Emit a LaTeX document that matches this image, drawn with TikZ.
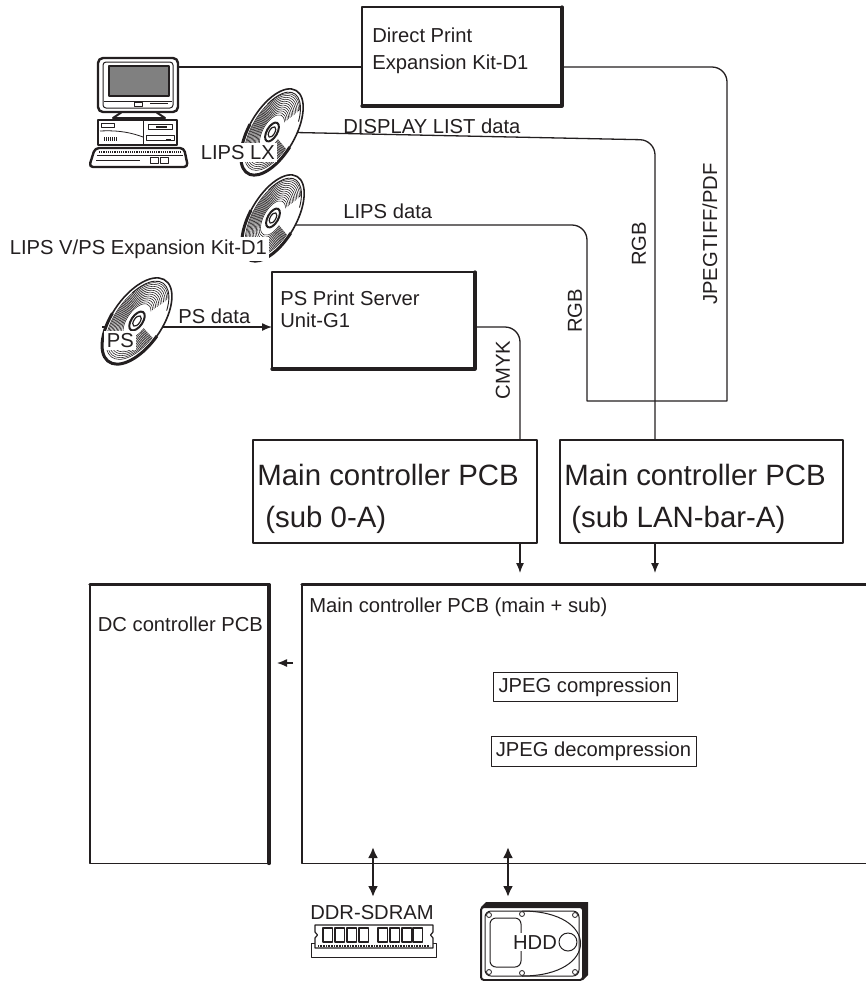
\documentclass[tikz,border=0pt]{standalone}
\usepackage{fontspec}
\setmainfont{Liberation Sans}
\usetikzlibrary{arrows.meta}
\definecolor{ink}{RGB}{35,31,32}
\definecolor{screengray}{RGB}{128,128,128}

\tikzset{
  cdisc/.pic={
    \begin{scope}[x=0.5pt,y=0.5pt,rotate=60]
      \filldraw[fill=white,line width=0.8pt] (0,0) ellipse[x radius=48,y radius=23];
      \draw[line width=1.5pt] (95:48 and 23) arc[start angle=95,end angle=265,x radius=48,y radius=23];
      \draw[line width=0.45pt] (-60:44.5 and 20.5) arc[start angle=-60,end angle=60,x radius=44.5,y radius=20.5];
      \foreach \k in {0.40,0.445,0.49,0.535,0.58,0.625,0.67,0.715,0.76,0.805,0.85,0.89}
        \draw[line width=0.28pt] (-40:{48*\k} and {23*\k}) arc[start angle=-40,end angle=260,x radius={48*\k},y radius={23*\k}];
      \draw[line width=1pt] (0,0) ellipse[x radius=10.5,y radius=5.2];
      \draw[line width=0.6pt] (0,0) ellipse[x radius=5.8,y radius=2.8];
    \end{scope}
  }
}

\begin{document}
\begin{tikzpicture}[x=0.5pt,y=-0.5pt,color=ink,line join=round,
  wire/.style={line width=0.65pt},
  tip/.style={line width=0.65pt,-{Latex[length=5pt,width=4pt]}},
  both/.style={line width=1.3pt,{Latex[length=5.5pt,width=5pt]}-{Latex[length=5.5pt,width=5pt]}},
  board/.style={draw,line width=0.65pt,inner sep=0pt,outer sep=0pt},
  unit/.style={draw,line width=1pt,inner sep=0pt,outer sep=0pt},
  func/.style={draw,line width=0.5pt,inner sep=0pt,outer sep=0pt},
  lbl/.style={font=\fontsize{10.1}{12}\selectfont,inner sep=0pt},
  biglbl/.style={font=\fontsize{14.7}{17}\selectfont,inner sep=0pt},
  mask/.style={lbl,fill=white,inner sep=1.2pt},
  vlbl/.style={lbl,rotate=90},
  shade/.style={line width=1.6pt,line cap=round}
]
\useasboundingbox (0,0) rectangle (866,981);

% ---------- boxes ----------
\node[unit,minimum width=100pt,minimum height=49.5pt] (dp) at (462,56.5) {};
\draw[shade] (dp.north east) -- (dp.south east) -- (dp.south west);
\node[lbl,anchor=base west] (dpt1) at (372,42) {Direct Print};
\node[lbl,anchor=base west] (dpt2) at (372,69) {Expansion Kit-D1};

\node[unit,minimum width=101.5pt,minimum height=48.5pt] (pss) at (373.5,320.5) {};
\draw[shade] (pss.north east) -- (pss.south east) -- (pss.south west);
\node[lbl,anchor=base west] (psst1) at (280,305) {PS Print Server};
\node[lbl,anchor=base west] (psst2) at (280,327) {Unit-G1};

\node[board,minimum width=142pt,minimum height=51.5pt] (mc0) at (395,491.5) {};
\node[biglbl,anchor=base west] (mc0t1) at (257,485) {Main controller PCB};
\node[biglbl,anchor=base west] (mc0t2) at (265,527) {(sub 0-A)};

\node[board,minimum width=141.5pt,minimum height=51.5pt] (mcl) at (701.5,491.5) {};
\node[biglbl,anchor=base west] (mclt1) at (564,485) {Main controller PCB};
\node[biglbl,anchor=base west] (mclt2) at (571,527) {(sub LAN-bar-A)};

\node[board,minimum width=289pt,minimum height=139.5pt] (mcm) at (591,724) {};
\draw[shade] (mcm.north west) -- (mcm.north east);
\node[lbl,anchor=base west] (mcmt) at (309,612) {Main controller PCB (main + sub)};

\node[board,minimum width=89.5pt,minimum height=139.5pt] (dc) at (179.5,724) {};
\draw[shade] (dc.north west) -- (dc.north east) -- (dc.south east);
\node[lbl,anchor=base west] (dct) at (97.5,631) {DC controller PCB};

\node[func,minimum width=92pt,minimum height=14.5pt,lbl] (jc) at (585,687) {JPEG compression};
\node[func,minimum width=102.5pt,minimum height=15pt,lbl] (jd) at (593.5,751.5) {JPEG decompression};

% ---------- computer ----------
\begin{scope}
  \draw[line width=1.2pt,fill=white,rounded corners=2.5pt] (98,58) rectangle (178,112);
  \draw[line width=0.5pt,rounded corners=1.5pt] (103,62) rectangle (173,108);
  \draw[line width=1.2pt,fill=screengray] (109,66) rectangle (169,96);
  \draw[line width=0.4pt] (104,101) -- (172,101);
  \draw[line width=0.4pt] (134,102) rectangle (142,106);
  \draw[line width=0.4pt] (150,103) -- (168,103);
  \draw[line width=1pt,fill=white] (122,112) -- (156,112) -- (165,118) -- (113,118) -- cycle;
  \draw[line width=1.2pt,fill=white] (98,120) rectangle (177,145);
  \draw[line width=0.5pt] (143,121) -- (143,144);
  \draw[line width=0.5pt] (101,123) rectangle (114,127);
  \draw[line width=0.4pt] (100,131) .. controls (120,130) and (132,133) .. (143,137);
  \draw[line width=0.5pt] (148,124) rectangle (172,129);
  \draw[line width=1pt] (156,126.5) -- (167,126.5);
  \draw[line width=0.5pt] (146,135) rectangle (174,140);
  \draw[line width=1pt] (166,140) -- (171,140);
  \foreach \i in {0,...,6} \draw[line width=0.3pt] (104+2*\i,137) -- (104+2*\i,141);
  \draw[line width=1.2pt,fill=white,rounded corners=2pt] (95,148) -- (184,148) -- (188,167) -- (89,167) -- cycle;
  \draw[line width=1.1pt,dash pattern=on 0.6pt off 0.5pt] (99,152) -- (181,152);
  \draw[line width=0.4pt] (97,155) -- (183,155);
  \draw[line width=0.4pt] (96,160) -- (140,160);
  \draw[line width=0.4pt] (150,157) rectangle (158,163);
  \draw[line width=0.4pt] (160,157) rectangle (168,163);
\end{scope}
\coordinate (pcport) at (178,67);
\draw[wire] (pcport) -- (pcport -| dp.west);

% ---------- discs and their data paths ----------
\coordinate (cd1) at (272,132);
\coordinate (cd2) at (273,218);
\coordinate (cdps) at (137,321);
\coordinate (psline) at (102,327);
\coordinate (jt) at (727,401);
\coordinate (rgbl) at (587,401);

\draw[wire,rounded corners=7.5pt] (cd1) -- (655,140) -- (655,140 |- mcl.north);
\draw[wire] (dp.east |- pcport) [rounded corners=7.5pt] -- (jt |- pcport) -- (727,300) [sharp corners] -- (jt) -- (rgbl) -- (587,300) [rounded corners=7.5pt] -- (587,225) -- (cd2 |- 0,225);
\draw[tip] (psline) -- (psline -| pss.west);

\pic at (cd1) {cdisc};
\pic at (cd2) {cdisc};
\pic[xscale=1.12] at (cdps) {cdisc};

\node[mask,anchor=base west] (lxl) at (198,159) {LIPS LX};
\node[mask,anchor=base west] (kitl) at (7,254) {LIPS V/PS Expansion Kit-D1};
\node[mask,anchor=base west] (psl) at (104,347) {PS};

\node[lbl,anchor=base west] (dll) at (343,133) {DISPLAY LIST data};
\node[lbl,anchor=base west] (lipsl) at (343,218) {LIPS data};
\node[lbl,anchor=base west] (psdl) at (178,323) {PS data};

% ---------- output paths ----------
\draw[wire,rounded corners=7.5pt] (psline -| pss.east) -- (520,327) -- (520,327 |- mc0.north);
\node[vlbl] (cmykl) at (503,370) {CMYK};
\node[vlbl] (rgb1) at (575,311) {RGB};
\node[vlbl] (rgb2) at (639,244) {RGB};
\node[vlbl] (jtl) at (710,234) {JPEGTIFF/PDF};

\coordinate (in0) at (520,573);
\coordinate (inl) at (655,573);
\draw[tip] (520,0 |- mc0.south) -- (in0);
\draw[tip] (655,0 |- mcl.south) -- (inl);

\coordinate (dcA) at (293,663);
\coordinate (dcB) at (277,663);
\draw[tip] (dcA) -- (dcB);

% ---------- memory ----------
\coordinate (ramA) at (373,847);
\coordinate (ramB) at (373,897);
\coordinate (hddA) at (508,847);
\coordinate (hddB) at (508,897);
\draw[both] (ramA) -- (ramB);
\draw[both] (hddA) -- (hddB);

\node[lbl,anchor=base] (raml) at (372,919) {DDR-SDRAM};
\draw[line width=0.5pt] (311,943) rectangle (436,957);
\draw[line width=0.6pt,fill=white] (315,925) -- (433,925) -- (433,932) -- (430.5,935) -- (433,938) -- (433,948) -- (315,948) -- (315,938) -- (317.5,935) -- (315,932) -- cycle;
\foreach \x in {323,335,347,359,378,390,402,413}
  \draw[line width=0.8pt] (\x,928) rectangle (\x+9.5,942);
\draw[line width=1.2pt,dash pattern=on 0.35pt off 0.45pt] (318,946) -- (430,946);

\fill (481,907) -- (486,902) -- (588,902) -- (588,975) -- (583,980) -- (583,907) -- cycle;
\draw[line width=1pt,fill=white,rounded corners=1.5pt] (481,907) rectangle (583,980);
\draw[line width=0.5pt,rounded corners=3pt] (485,911) rectangle (579,976);
\draw[line width=0.5pt] (522,911) .. controls (600,911) and (600,976) .. (522,976);
\draw[line width=0.5pt,rounded corners=3pt] (490,918) rectangle (521,967);
\foreach \p in {(489,915),(575,915),(489,972),(575,972),(522,914),(522,973)}
  \draw[line width=0.4pt,fill=white] \p circle[radius=2.5];
\node[mask,anchor=base] (hddl) at (535,949) {HDD};
\draw[line width=0.5pt] (568,942) circle[radius=9];
\end{tikzpicture}
\end{document}
